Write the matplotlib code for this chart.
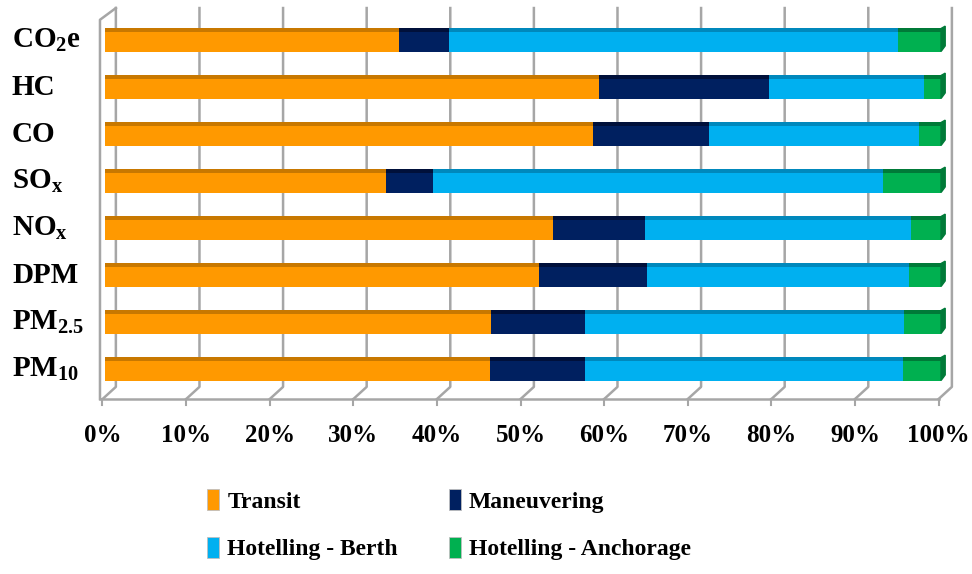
import matplotlib
matplotlib.use("Agg")
import matplotlib.pyplot as plt
from matplotlib.patches import Patch, Polygon
from matplotlib.transforms import blended_transform_factory

plt.rcParams['font.family'] = ['Liberation Serif', 'DejaVu Serif']
plt.rcParams['font.weight'] = 'bold'
plt.rcParams['mathtext.fontset'] = 'custom'
plt.rcParams['mathtext.rm'] = 'Liberation Serif:bold'
plt.rcParams['mathtext.it'] = 'Liberation Serif:bold'
plt.rcParams['mathtext.default'] = 'rm'

# data (percent of total emissions), top to bottom
pollutants = ['CO$_2$e', 'HC', 'CO', 'SO$_x$', 'NO$_x$', 'DPM', 'PM$_{2.5}$', 'PM$_{10}$']
transit = [35.2, 59.1, 58.4, 33.6, 53.6, 51.9, 46.2, 46.1]
maneuvering = [5.9, 20.3, 13.8, 5.6, 11.0, 12.9, 11.2, 11.3]
berth = [53.8, 18.6, 25.2, 53.9, 31.8, 31.4, 38.2, 38.1]
anchorage = [5.1, 2.0, 2.6, 6.9, 3.6, 3.8, 4.4, 4.5]
series_names = ['Transit', 'Maneuvering', 'Hotelling - Berth', 'Hotelling - Anchorage']
ticks = list(range(0, 101, 10))

colors = ['#FF9900', '#002060', '#00B0F0', '#00B050']
dark = ['#C87800', '#00103A', '#0088BC', '#007A38']

fig = plt.figure(figsize=(9.72, 5.74), dpi=100)
ax = fig.add_axes([90 / 972, 1 - 410 / 574, 870 / 972, 410 / 574])
ax.set_xlim(-1.794, 102.27)
ax.set_ylim(7.872, -0.851)
ax.axis('off')

grid = '#A6A6A6'
back, front = 1.3, -0.3
top_b, bot_b, bot_f = -0.68, 7.38, 7.64

# walls / gridlines with a fake 3d look
for k in ticks:
    ax.plot([k + back, k + back, k + front], [top_b, bot_b, bot_f], color=grid, lw=1.8, zorder=1)
    ax.plot([k + front, k + front], [bot_f, bot_f + 0.12], color=grid, lw=1.5, zorder=1,
            clip_on=False)
    ax.text(k + front, 8.42, f'{k}%', ha='center', va='center', fontsize=18,
            fontweight='bold', clip_on=False)
ax.plot([-0.6, -0.6, back], [bot_f, -0.43, top_b], color=grid, lw=1.8, zorder=1)
ax.plot([-0.6, 100 + front], [bot_f, bot_f], color=grid, lw=1.8, zorder=1)

# stacked bars
h = 0.49
strip = 0.07
ys = list(range(len(pollutants)))
left = [0.0] * len(pollutants)
for vals, c, dc in zip([transit, maneuvering, berth, anchorage], colors, dark):
    ax.barh(ys, vals, left=left, height=h, color=c, zorder=3)
    ax.barh([y - h / 2 + strip / 2 for y in ys], vals, left=left, height=strip,
            color=dc, zorder=4)
    left = [l + v for l, v in zip(left, vals)]

# right end caps
for y, end in zip(ys, left):
    cap = Polygon([(end, y - h / 2), (end + 0.5, y - h / 2 - 0.05),
                   (end + 0.5, y + h / 2 - 0.12), (end, y + h / 2)],
                  closed=True, color=dark[3], zorder=4)
    ax.add_patch(cap)

# category labels
lab_tr = blended_transform_factory(fig.transFigure, ax.transData)
for y, name in zip(ys, pollutants):
    ax.text(12 / 972, y, name, transform=lab_tr, ha='left', va='center',
            fontsize=21, fontweight='bold')

# legend, filled row by row like the original
handles = [Patch(facecolor=c, edgecolor='#BFBFBF', linewidth=0.6) for c in colors]
order = [0, 2, 1, 3]
fig.legend([handles[i] for i in order], [series_names[i] for i in order], ncol=2,
           loc='upper left', bbox_to_anchor=(186 / 972, 1 - 468 / 574), frameon=False,
           prop={'size': 17, 'weight': 'bold'}, handlelength=0.5, handleheight=1.0,
           handletextpad=0.35, labelspacing=1.0, columnspacing=2.15)

fig.savefig('out.png', dpi=100)
